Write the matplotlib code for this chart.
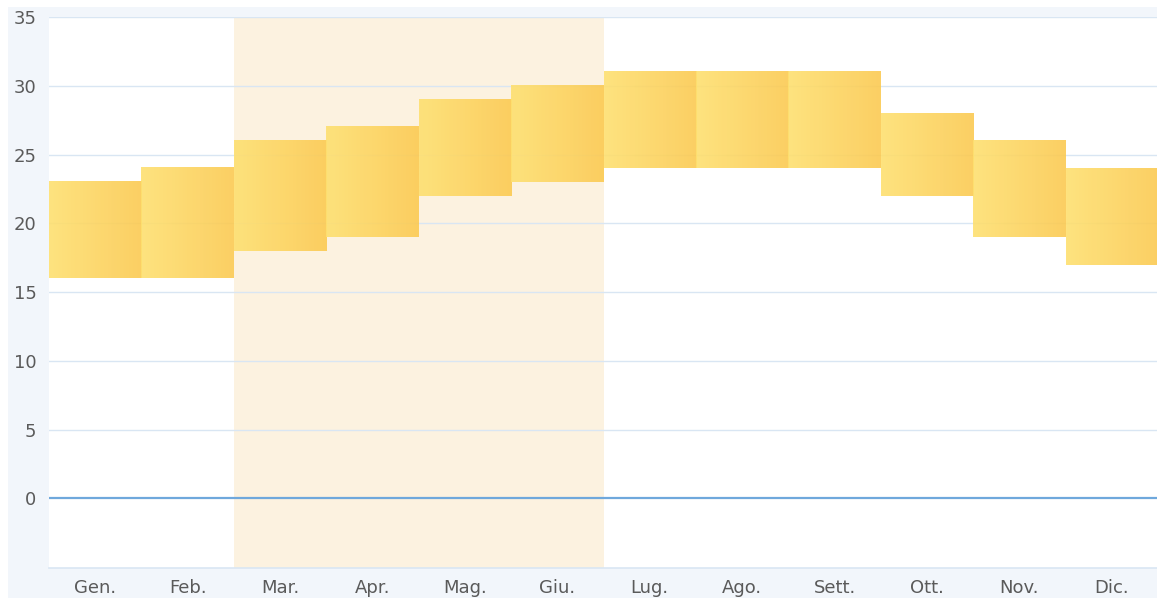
import numpy as np
import matplotlib
matplotlib.use("Agg")
import matplotlib.pyplot as plt
from matplotlib.patches import Rectangle
from matplotlib.colors import LinearSegmentedColormap

months = ["Gen.", "Feb.", "Mar.", "Apr.", "Mag.", "Giu.", "Lug.", "Ago.", "Sett.", "Ott.", "Nov.", "Dic."]
t_min = [16, 16, 18, 19, 22, 23, 24, 24, 24, 22, 19, 17]
t_max = [23, 24, 26, 27, 29, 30, 31, 31, 31, 28, 26, 24]
highlight_start, highlight_end = 2, 5  # Mar..Giu
yticks = [0, 5, 10, 15, 20, 25, 30, 35]

W, H = 1157, 598
fig = plt.figure(figsize=(W / 100, H / 100), dpi=100, facecolor="white")
# light blue panel background
fig.patches.append(Rectangle((8 / W, 0), 1 - 8 / W, 1 - 7 / H, transform=fig.transFigure,
                             facecolor="#f2f6fb", edgecolor="none", zorder=-10))

ax = fig.add_axes([49 / W, 30 / H, 1109 / W, (568 - 17) / H])
ax.set_zorder(5)
ax.set_facecolor("white")

# highlighted season
ax.axvspan(highlight_start, highlight_end + 1, color="#fcf2e0", zorder=0.5, lw=0)

# grid
for y in yticks:
    if y == 0:
        ax.axhline(y, color="#6fa8dc", lw=1.6, zorder=1)
    else:
        ax.axhline(y, color="#d9e6f3", lw=1.0, zorder=1)

cmap = LinearSegmentedColormap.from_list("g", ["#fee070", "#fbca52"])
grad = np.linspace(0, 1, 64).reshape(1, -1)
for i, (lo, hi) in enumerate(zip(t_min, t_max)):
    ax.imshow(grad, cmap=cmap, aspect="auto", extent=(i, i + 1, lo, hi),
              alpha=0.9, zorder=2, interpolation="bilinear")
ax.set_xlim(0, len(months))
ax.set_ylim(-5.07, 35)

ax.set_yticks(yticks)
ax.set_yticklabels([str(v) for v in yticks])
ax.set_xticks(np.arange(len(months)) + 0.5)
ax.set_xticklabels(months)
ax.tick_params(axis="both", length=0, labelsize=13, labelcolor="#5a5a5a")
ax.tick_params(axis="y", pad=9)
ax.tick_params(axis="x", pad=8)
for s in ["top", "right", "left"]:
    ax.spines[s].set_visible(False)
ax.spines["bottom"].set_color("#d9e6f3")
ax.spines["bottom"].set_linewidth(1.2)

fig.savefig("out.png", dpi=100, facecolor="white")
